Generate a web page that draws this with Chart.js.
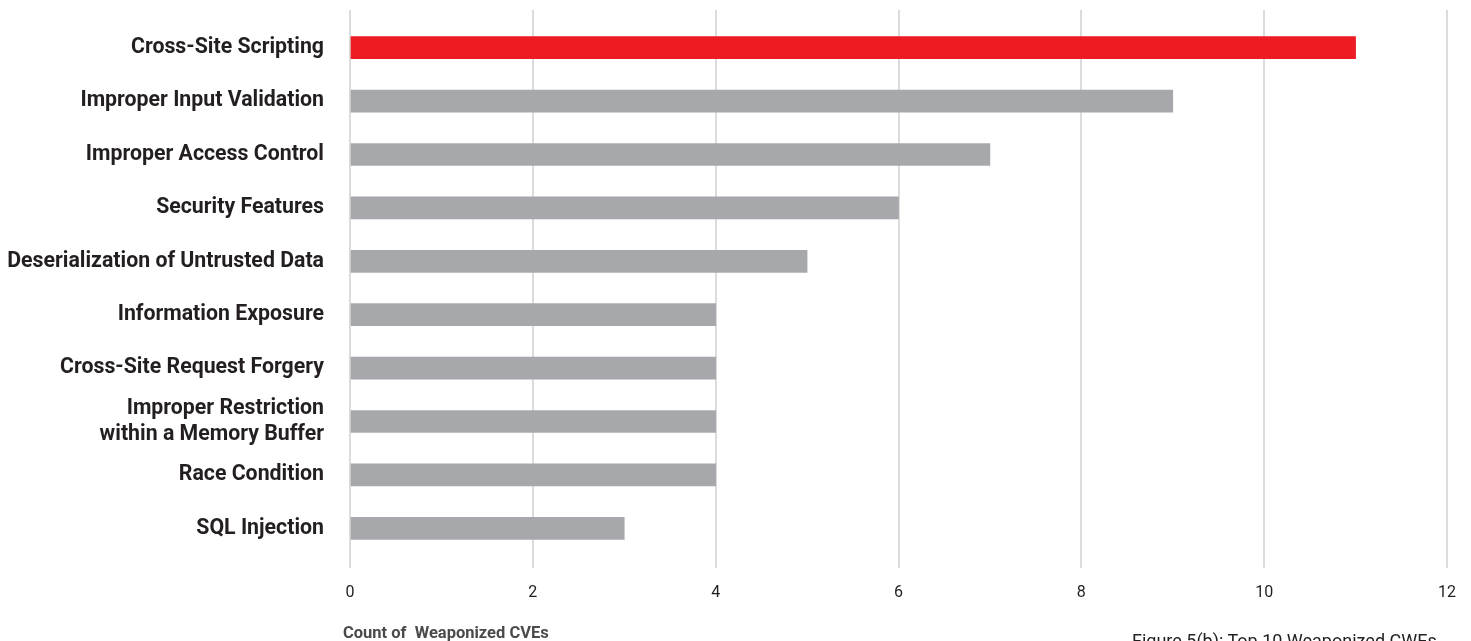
<!DOCTYPE html>
<html>
<head>
<meta charset="utf-8">
<script src="https://cdn.jsdelivr.net/npm/chart.js@4/dist/chart.umd.min.js"></script>
<style>
  html, body { margin: 0; padding: 0; background: #ffffff; overflow: hidden; }
  #wrap { position: relative; width: 1471px; height: 641px; }
  #axisTitle { position: absolute; left: 343px; top: 623px; font: bold 16.5px Roboto, sans-serif; color: #4a4a4a; white-space: pre; }
  #caption { position: absolute; left: 1132px; top: 629.5px; font: 18px Roboto, sans-serif; color: #231f20; white-space: pre; }
</style>
</head>
<body>
<div id="wrap">
  <canvas id="c" width="1471" height="641"></canvas>
  <div id="axisTitle">Count of  Weaponized CVEs</div>
  <div id="caption">Figure 5(b): Top 10 Weaponized CWEs</div>
</div>
<script>
const categories = [
  "Cross-Site Scripting",
  "Improper Input Validation",
  "Improper Access Control",
  "Security Features",
  "Deserialization of Untrusted Data",
  "Information Exposure",
  "Cross-Site Request Forgery",
  ["Improper Restriction", "within a Memory Buffer"],
  "Race Condition",
  "SQL Injection"
];
const weaponizedCounts = [11, 9, 7, 6, 5, 4, 4, 4, 4, 3];
const barColors = ["#ed1c24", "#a7a8ab", "#a7a8ab", "#a7a8ab", "#a7a8ab", "#a7a8ab", "#a7a8ab", "#a7a8ab", "#a7a8ab", "#a7a8ab"];
const xTickValues = [0, 2, 4, 6, 8, 10, 12];

const gridColor = "#dcdcdc";

const extendGrid = {
  id: "extendGrid",
  beforeDatasetsDraw(chart) {
    const x = chart.scales.x;
    const ctx = chart.ctx;
    const top = chart.chartArea.top;
    ctx.save();
    ctx.strokeStyle = gridColor;
    ctx.lineWidth = 2;
    x.ticks.forEach(t => {
      const px = Math.round(x.getPixelForValue(t.value));
      ctx.beginPath();
      ctx.moveTo(px, 10);
      ctx.lineTo(px, top);
      ctx.stroke();
    });
    ctx.restore();
  }
};

new Chart(document.getElementById("c"), {
  type: "bar",
  data: {
    labels: categories,
    datasets: [{
      data: weaponizedCounts,
      backgroundColor: barColors,
      barThickness: 22,
      borderWidth: 0
    }]
  },
  options: {
    indexAxis: "y",
    responsive: false,
    animation: false,
    layout: { padding: { top: 21, right: 24, bottom: 0, left: 0 } },
    plugins: { legend: { display: false }, tooltip: { enabled: false } },
    scales: {
      x: {
        min: 0,
        max: 12,
        afterBuildTicks(scale) { scale.ticks = xTickValues.map(v => ({ value: v })); },
        afterFit(scale) { scale.height = 86; },
        grid: { color: gridColor, lineWidth: 2, drawTicks: true, tickLength: 13, tickColor: gridColor },
        border: { display: false },
        ticks: {
          padding: 15,
          color: "#231f20",
          font: { family: "Roboto", size: 16 }
        }
      },
      y: {
        afterFit(scale) { scale.width = 350; scale.paddingTop = 0; scale.paddingBottom = 0; },
        grid: { display: false, drawTicks: false },
        border: { display: false },
        ticks: {
          autoSkip: false,
          padding: 26,
          color: "#231f20",
          font: { family: "Roboto", size: 21.3, weight: "bold", lineHeight: 1.22 }
        }
      }
    }
  },
  plugins: [extendGrid]
});
</script>
</body>
</html>
